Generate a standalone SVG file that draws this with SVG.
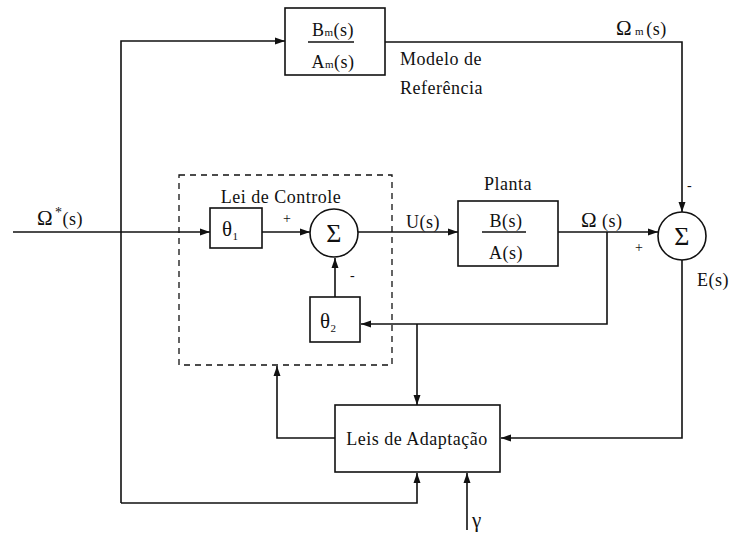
<svg xmlns="http://www.w3.org/2000/svg" width="733" height="534" viewBox="0 0 733 534">
<style>
text{font-family:"Liberation Serif","Times New Roman",serif;font-size:18px;letter-spacing:0.5px;fill:#111}
.b{fill:#fff;stroke:#111;stroke-width:1.6}
.l{fill:none;stroke:#111;stroke-width:1.6}
.d{fill:none;stroke:#111;stroke-width:1.3;stroke-dasharray:6,5}
.m{text-anchor:middle}
.s{font-size:11px}
.g{font-size:26px}
.k{font-size:14px}
.t{font-size:21px}
</style>
<defs>
<marker id="a" viewBox="0 0 10 8" refX="10" refY="4" markerWidth="10" markerHeight="8" markerUnits="userSpaceOnUse" orient="auto"><path d="M0,0.5L10,4L0,7.5z" fill="#111"/></marker>
</defs>
<g id="connectors">
<path class="l" d="M13,232H210" marker-end="url(#a)"/>
<path class="l" d="M262,232H310" marker-end="url(#a)"/>
<path class="l" d="M358,232H458" marker-end="url(#a)"/>
<path class="l" d="M558,232H658" marker-end="url(#a)"/>
<path class="l" d="M121,503V41H285" marker-end="url(#a)"/>
<path class="l" d="M385,42H682V212" marker-end="url(#a)"/>
<path class="l" d="M607,232V324H361" marker-end="url(#a)"/>
<path class="l" d="M417,324V405" marker-end="url(#a)"/>
<path class="l" d="M335,297V258" marker-end="url(#a)"/>
<path class="l" d="M682,259V438H501" marker-end="url(#a)"/>
<path class="l" d="M335,438H277V366" marker-end="url(#a)"/>
<path class="l" d="M121,503H417V473" marker-end="url(#a)"/>
<path class="l" d="M467,530V473" marker-end="url(#a)"/>
</g>
<g id="controle">
<rect class="d" x="179" y="175" width="213" height="190"/>
<text class="m" x="281" y="203">Lei de Controle</text>
</g>
<g id="ref">
<rect class="b" x="285" y="8" width="100" height="67"/>
<line class="l" x1="308" y1="42" x2="354" y2="42"/>
<text class="m" x="333" y="36">B<tspan class="s">m</tspan>(s)</text>
<text class="m" x="333" y="68">A<tspan class="s">m</tspan>(s)</text>
<text x="400" y="65">Modelo de</text>
<text x="400" y="94">Referência</text>
</g>
<g id="omegam"><text x="616" y="35"><tspan class="t">Ω</tspan><tspan class="s" dx="3">m</tspan><tspan dx="2">(s)</tspan></text></g>
<g id="input"><text x="37" y="225"><tspan class="t">Ω</tspan><tspan class="k" dy="-8" dx="2">*</tspan><tspan dy="8">(s)</tspan></text></g>
<g id="theta1">
<rect class="b" x="210" y="208" width="52" height="40"/>
<text x="222" y="236"><tspan class="t">θ</tspan><tspan class="s" dy="4">1</tspan></text>
<text class="k" x="283" y="223">+</text>
</g>
<g id="sum1">
<circle class="b" cx="334" cy="233" r="24"/>
<text class="m g" x="334" y="242">Σ</text>
<text class="k" x="350" y="280">-</text>
</g>
<g id="theta2">
<rect class="b" x="310" y="297" width="50" height="45"/>
<text x="320" y="328"><tspan class="t">θ</tspan><tspan class="s" dy="4">2</tspan></text>
</g>
<g id="planta">
<text class="m" x="508" y="190">Planta</text>
<rect class="b" x="458" y="201" width="100" height="65"/>
<line class="l" x1="482" y1="232" x2="526" y2="232"/>
<text class="m" x="506" y="227">B(s)</text>
<text class="m" x="506" y="259">A(s)</text>
<text x="406" y="228">U(s)</text>
<text x="581" y="227"><tspan class="t">Ω</tspan> (s)</text>
</g>
<g id="sum2">
<circle class="b" cx="682" cy="236" r="24"/>
<text class="m g" x="682" y="245">Σ</text>
<text class="k" x="687" y="190">-</text>
<text class="k" x="635" y="252">+</text>
<text x="697" y="286">E(s)</text>
</g>
<g id="adapt">
<rect class="b" x="335" y="405" width="165" height="67"/>
<text class="m" x="417" y="445">Leis de Adaptação</text>
<text class="t" x="472" y="527">γ</text>
</g>
</svg>
